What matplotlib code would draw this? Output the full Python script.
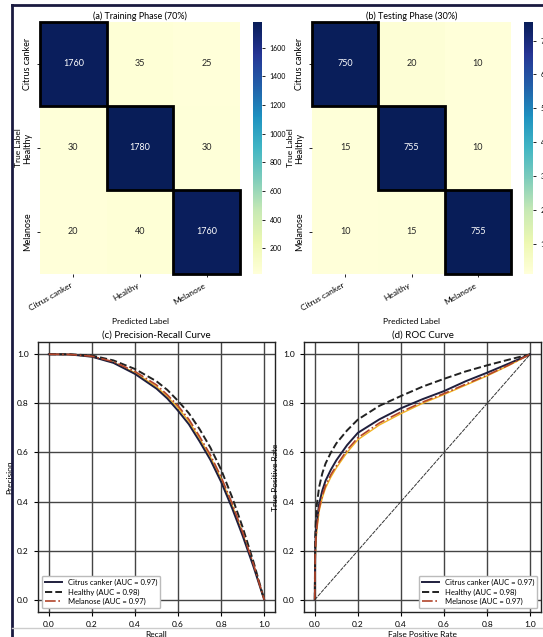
import numpy as np
import matplotlib
matplotlib.use('Agg')
import matplotlib.pyplot as plt
import seaborn as sns
from matplotlib.patches import Rectangle
from matplotlib.lines import Line2D

plt.rcParams['font.family'] = ['Lato', 'DejaVu Sans']

# class names and confusion matrices
classes = ['Citrus canker', 'Healthy', 'Melanose']
cm_train = np.array([[1760, 35, 25],
                     [30, 1780, 30],
                     [20, 40, 1760]])
cm_test = np.array([[750, 20, 10],
                    [15, 755, 10],
                    [10, 15, 755]])

# precision-recall curves
pr_recall = [0.0, 0.1, 0.2, 0.3, 0.4, 0.5, 0.55, 0.6, 0.65, 0.7, 0.75, 0.8, 0.85, 0.9, 0.95, 1.0]
pr_citrus = [1.0, 0.999, 0.99, 0.965, 0.92, 0.86, 0.82, 0.77, 0.715, 0.645, 0.57, 0.48, 0.375, 0.26, 0.135, 0.0]
pr_healthy = [1.0, 1.0, 0.995, 0.975, 0.94, 0.89, 0.855, 0.81, 0.76, 0.695, 0.62, 0.53, 0.42, 0.295, 0.155, 0.0]
pr_melanose = [1.0, 0.999, 0.992, 0.97, 0.93, 0.875, 0.835, 0.79, 0.735, 0.665, 0.59, 0.5, 0.395, 0.275, 0.145, 0.0]
pr_extra = [1.0, 0.999, 0.99, 0.967, 0.925, 0.868, 0.828, 0.782, 0.727, 0.657, 0.582, 0.492, 0.388, 0.27, 0.142, 0.0]

# ROC curves
roc_fpr = [0.0, 0.002, 0.005, 0.01, 0.02, 0.035, 0.05, 0.075, 0.1, 0.15, 0.2, 0.3, 0.4, 0.5, 0.6, 0.7, 0.8, 0.9, 1.0]
roc_citrus = [0.0, 0.2, 0.27, 0.32, 0.39, 0.445, 0.485, 0.53, 0.568, 0.63, 0.68, 0.735, 0.78, 0.817, 0.85, 0.89, 0.925, 0.962, 1.0]
roc_healthy = [0.0, 0.25, 0.33, 0.39, 0.458, 0.515, 0.555, 0.6, 0.637, 0.69, 0.734, 0.79, 0.83, 0.868, 0.9, 0.93, 0.955, 0.978, 1.0]
roc_melanose = [0.0, 0.18, 0.25, 0.3, 0.37, 0.425, 0.465, 0.51, 0.545, 0.61, 0.66, 0.72, 0.765, 0.805, 0.84, 0.878, 0.915, 0.956, 1.0]
roc_extra = [0.0, 0.16, 0.23, 0.285, 0.36, 0.415, 0.455, 0.5, 0.537, 0.6, 0.652, 0.712, 0.758, 0.8, 0.836, 0.874, 0.912, 0.954, 1.0]
auc_vals = [0.97, 0.98, 0.97]

W, H = 543, 637
fig = plt.figure(figsize=(W / 100, H / 100), dpi=100)


def box(x0, y0, x1, y1):
    return [x0 / W, 1 - y1 / H, (x1 - x0) / W, (y1 - y0) / H]


def draw_cm(cm, ax_box, cb_box, title, ticks):
    ax = fig.add_axes(box(*ax_box))
    cax = fig.add_axes(box(*cb_box))
    sns.heatmap(cm, ax=ax, cbar_ax=cax, cmap='YlGnBu', annot=True, fmt='d',
                annot_kws={'fontsize': 6.5}, xticklabels=classes, yticklabels=classes)
    for i in range(len(classes)):
        ax.add_patch(Rectangle((i, i), 1, 1, fill=False, edgecolor='black', lw=2, clip_on=False))
    ax.set_title(title, fontsize=6.5, pad=2)
    ax.set_xlabel('Predicted Label', fontsize=6, labelpad=4)
    ax.set_ylabel('True Label', fontsize=6, labelpad=1)
    ax.set_xticklabels(classes, rotation=30, ha='right', fontsize=6)
    ax.set_yticklabels(classes, rotation=90, va='center', fontsize=6.5)
    ax.tick_params(length=2, width=0.6)
    cax.set_yticks(ticks)
    cax.tick_params(labelsize=5, length=2, width=0.6)
    return ax


draw_cm(cm_train, (40, 22, 240, 274), (253, 22, 262, 274), '(a) Training Phase (70%)',
        [200, 400, 600, 800, 1000, 1200, 1400, 1600])
draw_cm(cm_test, (312, 22, 511, 274), (524, 22, 533, 274), '(b) Testing Phase (30%)',
        [100, 200, 300, 400, 500, 600, 700])


def style(ax, title, xlabel, ylabel, loc):
    ax.set_title(title, fontsize=7, pad=3)
    ax.set_xlabel(xlabel, fontsize=6, labelpad=2)
    ax.set_ylabel(ylabel, fontsize=6, labelpad=3)
    ax.set_xticks([0, 0.2, 0.4, 0.6, 0.8, 1.0])
    ax.set_yticks([0, 0.2, 0.4, 0.6, 0.8, 1.0])
    ax.tick_params(labelsize=6, length=3, width=0.8)
    ax.grid(True, color='#444444', lw=1.0)
    for s in ax.spines.values():
        s.set_color('#222222')
        s.set_linewidth(1.0)
    ax.legend(loc=loc, fontsize=5.5, framealpha=1, edgecolor='#bbbbbb',
              handlelength=2.2, borderpad=0.4, labelspacing=0.3)


ax_c = fig.add_axes(box(38, 342, 275, 612))
ax_c.plot(pr_recall, pr_extra, color='#f2b321', lw=1.0)
ax_c.plot(pr_recall, pr_citrus, color='#1f1f3d', lw=1.4, label=f'Citrus canker (AUC = {auc_vals[0]:.2f})')
ax_c.plot(pr_recall, pr_healthy, color='#222222', lw=1.4, ls='--', label=f'Healthy (AUC = {auc_vals[1]:.2f})')
ax_c.plot(pr_recall, pr_melanose, color='#b2452b', lw=1.2, ls='-.', label=f'Melanose (AUC = {auc_vals[2]:.2f})')
style(ax_c, '(c) Precision-Recall Curve', 'Recall', 'Precision', 'lower left')

ax_d = fig.add_axes(box(304, 342, 541, 612))
ax_d.plot(roc_fpr, roc_extra, color='#f2b321', lw=1.0)
ax_d.plot(roc_fpr, roc_citrus, color='#1f1f3d', lw=1.4, label=f'Citrus canker (AUC = {auc_vals[0]:.2f})')
ax_d.plot(roc_fpr, roc_healthy, color='#222222', lw=1.4, ls='--', label=f'Healthy (AUC = {auc_vals[1]:.2f})')
ax_d.plot(roc_fpr, roc_melanose, color='#b2452b', lw=1.2, ls='-.', label=f'Melanose (AUC = {auc_vals[2]:.2f})')
ax_d.plot([0, 1], [0, 1], color='#333333', lw=0.7, ls=(0, (4, 1)))
style(ax_d, '(d) ROC Curve', 'False Positive Rate', 'True Positive Rate', 'lower right')

# screenshot frame
fig.add_artist(Line2D([12 / W, 1], [1 - 5 / H, 1 - 5 / H], color='#1a1a40', lw=2))
fig.add_artist(Line2D([12 / W, 12 / W], [1 - 5 / H, 0], color='#1a1a40', lw=2))
fig.add_artist(Line2D([12 / W, 1], [1 - 628 / H, 1 - 628 / H], color='#cccccc', lw=1))

fig.savefig('out.png', dpi=100)
